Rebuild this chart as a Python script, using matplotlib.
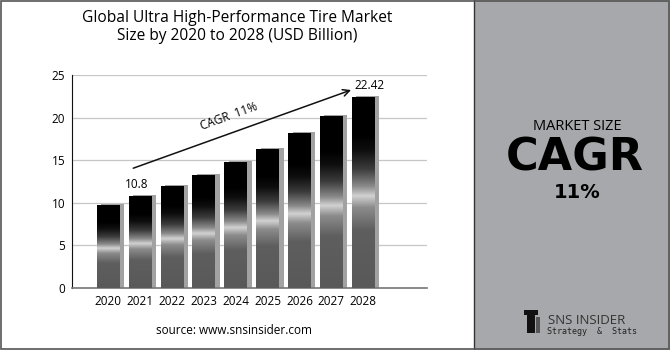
import numpy as np
import matplotlib
matplotlib.use("Agg")
import matplotlib.pyplot as plt
from matplotlib.colors import LinearSegmentedColormap
from matplotlib.patches import Rectangle

years = ["2020", "2021", "2022", "2023", "2024", "2025", "2026", "2027", "2028"]
values = [9.7, 10.8, 12.0, 13.3, 14.75, 16.35, 18.15, 20.15, 22.42]
y_ticks = [0, 5, 10, 15, 20, 25]
title = "Global Ultra High-Performance Tire Market\nSize by 2020 to 2028 (USD Billion)"
cagr_text = "CAGR  11%"
first_label = "10.8"
last_label = "22.42"

FONT = "Open Sans"
PANEL_GREY = "#a7a8ab"

# vertical metallic gradient, bottom -> top
bar_cmap = LinearSegmentedColormap.from_list("metal", [
    (0.00, "#595959"),
    (0.30, "#5e5e5e"),
    (0.42, "#8c8c8c"),
    (0.48, "#d2d2d2"),
    (0.53, "#8a8a8a"),
    (0.62, "#3c3c3c"),
    (0.72, "#0e0e0e"),
    (0.80, "#000000"),
    (1.00, "#000000"),
])
grad = np.linspace(0, 1, 256).reshape(-1, 1)

fig = plt.figure(figsize=(6.7, 3.5), dpi=100)
fig.patch.set_facecolor("white")

# right grey panel and frame
fig.add_artist(Rectangle((474 / 670, 0), 1 - 474 / 670, 1, transform=fig.transFigure,
                         facecolor=PANEL_GREY, edgecolor="none", zorder=0))
fig.add_artist(plt.Line2D([474 / 670, 474 / 670], [0, 1], transform=fig.transFigure,
                          color="#333333", lw=1.0))
fig.add_artist(Rectangle((0.001, 0.002), 0.997, 0.995, transform=fig.transFigure,
                         facecolor="none", edgecolor="#555555", lw=1.2, zorder=5))

ax = fig.add_axes([72 / 670, 62 / 350, 355 / 670, 213 / 350])
x = np.arange(len(years))
w = 0.72

ax.bar(x + 0.14, [v + 0.12 for v in values], width=w, color="#a2a2a2", zorder=2)
bars = ax.bar(x, values, width=w, color="none", zorder=3)
for b in bars:
    x0, y0 = b.get_x(), b.get_y()
    im = ax.imshow(grad, cmap=bar_cmap, origin="lower", aspect="auto",
                   extent=(x0, x0 + b.get_width(), y0, y0 + b.get_height()),
                   zorder=3, interpolation="bilinear")
    im.set_clip_path(b)

ax.set_xlim(-1.14, 10.0)
ax.set_ylim(0, 25)
ax.set_yticks(y_ticks)
ax.set_xticks(x)
ax.set_xticklabels(years)
ax.tick_params(length=0, labelsize=8.5, pad=5)
for lab in ax.get_xticklabels() + ax.get_yticklabels():
    lab.set_fontfamily(FONT)
ax.grid(axis="y", color="#c6c6c6", lw=0.9, zorder=0)
ax.set_axisbelow(True)
for s in ["top", "right"]:
    ax.spines[s].set_visible(False)
ax.spines["left"].set_color("#111111")
ax.spines["bottom"].set_color("#777777")
ax.spines["bottom"].set_linewidth(1.2)
ax.set_facecolor("none")

# annotations
ax.annotate("", xy=(7.7, 23.35), xytext=(0.7, 13.95),
            arrowprops=dict(arrowstyle="->", color="#111111", lw=1.1,
                            mutation_scale=12))
ax.text(3.78, 20.1, cagr_text, rotation=20, ha="center", va="center",
        fontsize=8.5, family=FONT)
ax.text(0.9, 12.1, first_label, ha="center", va="center", fontsize=8.5, family=FONT)
ax.text(8.2, 23.8, last_label, ha="center", va="center", fontsize=8.5, family=FONT)

fig.text(237 / 670, 1 - 27 / 350, title, ha="center", va="center", fontsize=11.2,
         family=FONT, linespacing=1.2)
fig.text(234 / 670, 1 - 331 / 350, "source: www.snsinsider.com", ha="center",
         va="center", fontsize=8.5, family=FONT)

# right panel text
fig.text(577 / 670, 1 - 127 / 350, "MARKET SIZE", ha="center", va="center",
         fontsize=10.5, family=FONT)
fig.text(575 / 670, 1 - 158 / 350, "CAGR", ha="center", va="center",
         fontsize=32, fontweight="heavy", family="DejaVu Sans")
fig.text(577 / 670, 1 - 193 / 350, "11%", ha="center", va="center",
         fontsize=14, fontweight="bold", family="DejaVu Sans")

# logo
fig.add_artist(Rectangle((527 / 670, 1 - 333 / 350), 8 / 670, 22 / 350,
                         transform=fig.transFigure, facecolor="#111111",
                         edgecolor="none"))
fig.add_artist(Rectangle((524 / 670, 1 - 315 / 350), 14 / 670, 5 / 350,
                         transform=fig.transFigure, facecolor="#111111",
                         edgecolor="none"))
fig.add_artist(Rectangle((536 / 670, 1 - 333 / 350), 4 / 670, 16 / 350,
                         transform=fig.transFigure, facecolor="#555555",
                         edgecolor="none"))
fig.text(548 / 670, 1 - 320 / 350, "SNS INSIDER", ha="left", va="center",
         fontsize=9.5, color="#333333", family=FONT)
fig.text(547 / 670, 1 - 331 / 350, "Strategy  &  Stats", ha="left",
         va="center", fontsize=6, color="#222222", family="DejaVu Sans Mono")

fig.savefig("out.png", dpi=100)
